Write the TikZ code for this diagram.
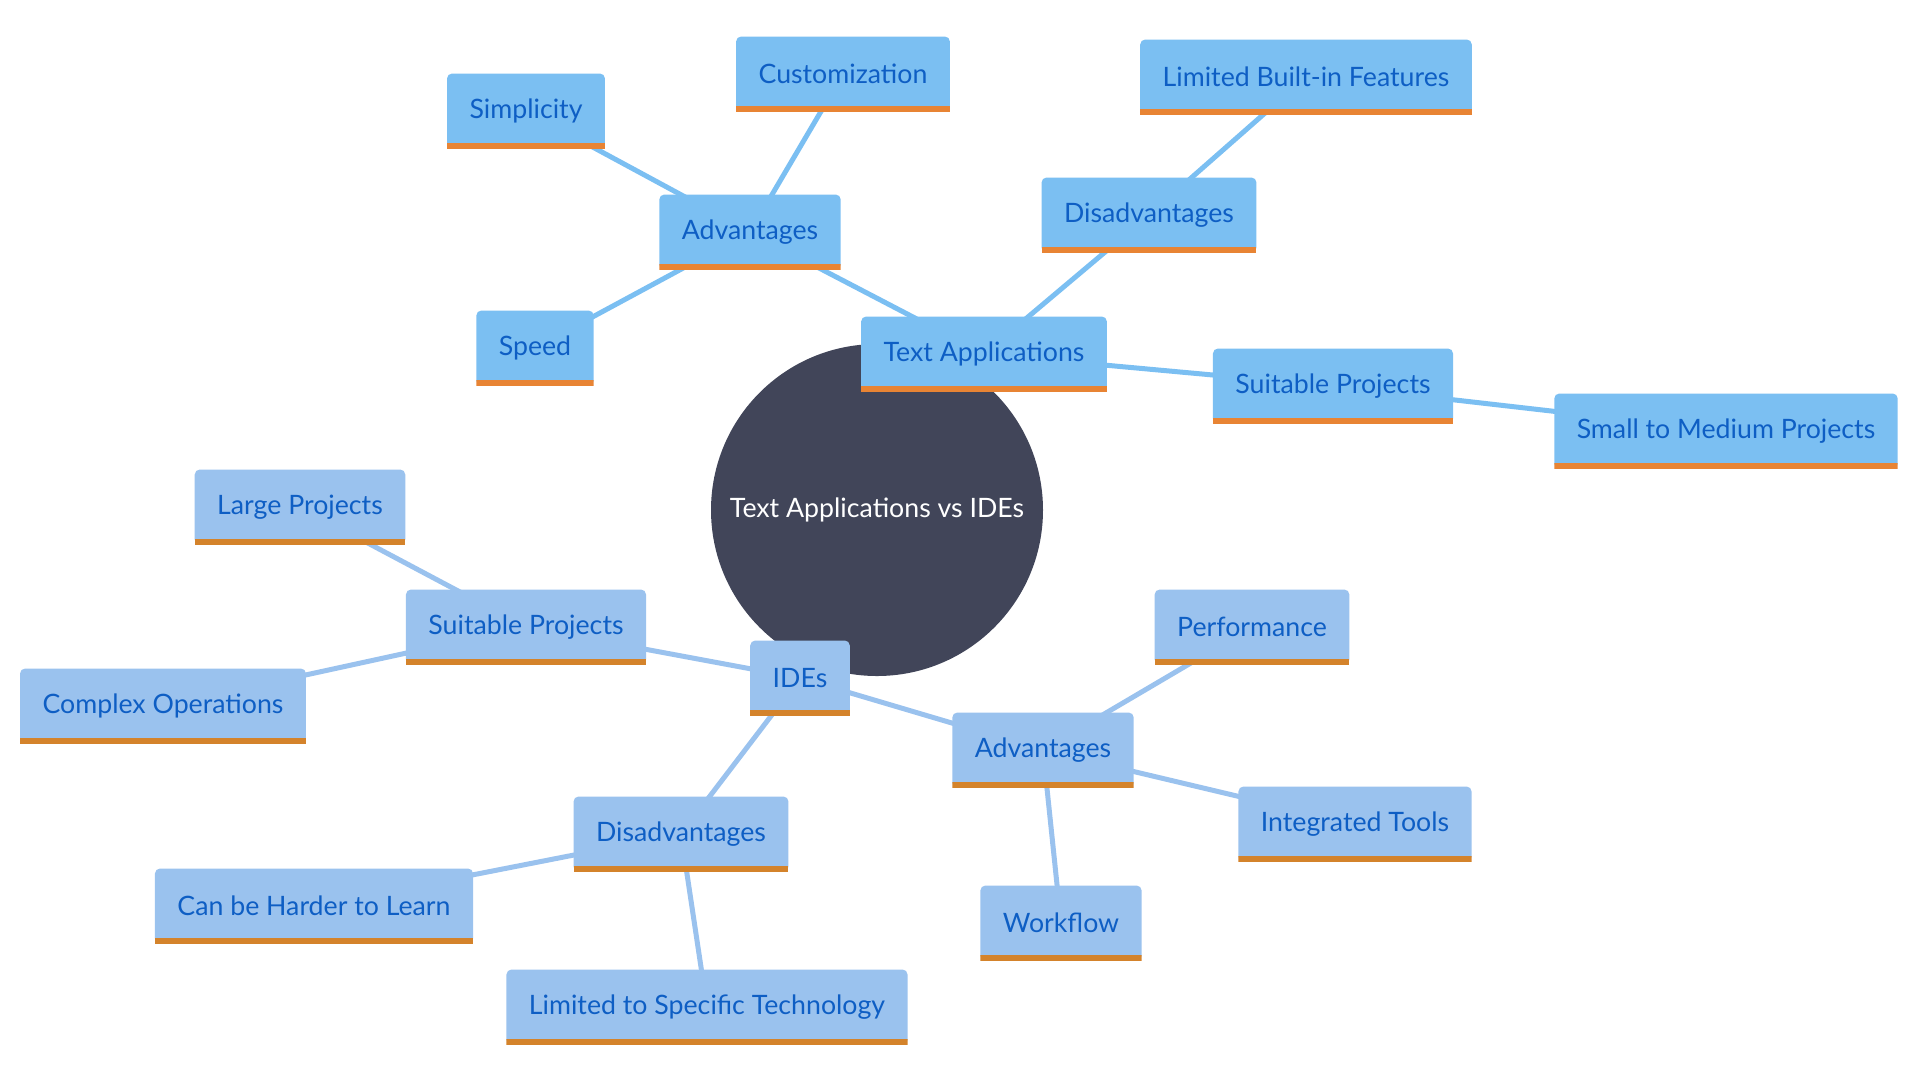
\documentclass[tikz,border=0pt]{standalone}
\usepackage{fontspec}
\setmainfont{Lato}
\usetikzlibrary{backgrounds}

\definecolor{taFill}{HTML}{7BBFF2}
\definecolor{taBar}{HTML}{E88434}
\definecolor{idFill}{HTML}{9AC2EE}
\definecolor{idBar}{HTML}{D4832B}
\definecolor{boxText}{HTML}{0E5EC4}
\definecolor{rootFill}{HTML}{414559}

\tikzset{
  mmbox/.style 2 args={rectangle, minimum height=7.5mm, inner xsep=2.25mm, inner ysep=0pt,
    text=boxText, font=\fontsize{7.6}{9.1}\selectfont,
    path picture={
      \fill[#1, rounded corners=0.5mm] (path picture bounding box.south west)
        rectangle (path picture bounding box.north east);
      \fill[#2] (path picture bounding box.south west)
        rectangle ([yshift=0.55mm]path picture bounding box.south east);
    }},
  tabox/.style={mmbox={taFill}{taBar}},
  idbox/.style={mmbox={idFill}{idBar}},
  taline/.style={draw=taFill, line width=0.5mm},
  idline/.style={draw=idFill, line width=0.5mm},
}

\begin{document}
\begin{tikzpicture}[x=0.1mm, y=-0.1mm]
  \useasboundingbox (0,0) rectangle (1920,1080);
  % Root
  \node[circle, fill=rootFill, minimum size=33.2mm, text=white,
    font=\fontsize{7.6}{9.1}\selectfont] (root) at (877,510) {Text Applications vs IDEs};
  % Text applications branch
  \node[tabox] (ta) at (984,354) {Text Applications};
  \node[tabox] (taAdv) at (750,232) {Advantages};
  \node[tabox] (simple) at (526,111) {Simplicity};
  \node[tabox] (custom) at (843,74) {Customization};
  \node[tabox] (speed) at (535,348) {Speed};
  \node[tabox] (taDis) at (1149,215) {Disadvantages};
  \node[tabox] (builtin) at (1306,77) {Limited Built-in Features};
  \node[tabox] (taSuit) at (1333,386) {Suitable Projects};
  \node[tabox] (smallMed) at (1726,431) {Small to Medium Projects};
  % IDE branch
  \node[idbox] (ide) at (800,678) {IDEs};
  \node[idbox] (ideSuit) at (526,627) {Suitable Projects};
  \node[idbox] (large) at (300,507) {Large Projects};
  \node[idbox] (complex) at (163,706) {Complex Operations};
  \node[idbox] (ideAdv) at (1043,750) {Advantages};
  \node[idbox] (perf) at (1252,627) {Performance};
  \node[idbox] (tools) at (1355,824) {Integrated Tools};
  \node[idbox] (flow) at (1061,923) {Workflow};
  \node[idbox] (ideDis) at (681,834) {Disadvantages};
  \node[idbox] (harder) at (314,906) {Can be Harder to Learn};
  \node[idbox] (specific) at (707,1007) {Limited to Specific Technology};
  % Connectors
  \begin{scope}[on background layer]
    \draw[taline] (root.center) -- (ta.center);
    \draw[taline] (ta.center) -- (taAdv.center);
    \draw[taline] (taAdv.center) -- (simple.center);
    \draw[taline] (taAdv.center) -- (custom.center);
    \draw[taline] (taAdv.center) -- (speed.center);
    \draw[taline] (ta.center) -- (taDis.center);
    \draw[taline] (taDis.center) -- (builtin.center);
    \draw[taline] (ta.center) -- (taSuit.center);
    \draw[taline] (taSuit.center) -- (smallMed.center);
    \draw[idline] (root.center) -- (ide.center);
    \draw[idline] (ide.center) -- (ideSuit.center);
    \draw[idline] (ideSuit.center) -- (large.center);
    \draw[idline] (ideSuit.center) -- (complex.center);
    \draw[idline] (ide.center) -- (ideAdv.center);
    \draw[idline] (ideAdv.center) -- (perf.center);
    \draw[idline] (ideAdv.center) -- (tools.center);
    \draw[idline] (ideAdv.center) -- (flow.center);
    \draw[idline] (ide.center) -- (ideDis.center);
    \draw[idline] (ideDis.center) -- (harder.center);
    \draw[idline] (ideDis.center) -- (specific.center);
  \end{scope}
\end{tikzpicture}
\end{document}
